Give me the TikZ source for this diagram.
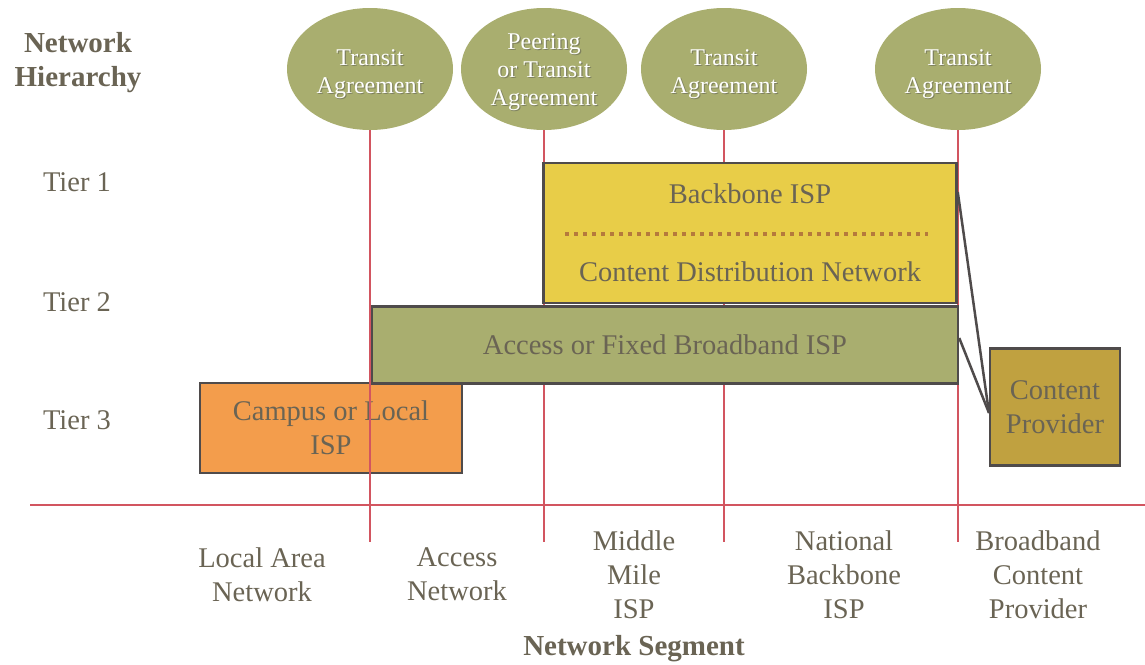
\documentclass[tikz,border=0pt]{standalone}
\usepackage{fontspec}
\setmainfont{Liberation Serif}
\usetikzlibrary{shapes.geometric}
\definecolor{olive}{HTML}{A9AE6F}
\definecolor{gold}{HTML}{E8CD48}
\definecolor{peach}{HTML}{F39D4C}
\definecolor{mustard}{HTML}{C0A140}
\definecolor{edge}{HTML}{4F4B4B}
\definecolor{txt}{HTML}{6A6454}
\definecolor{grid}{HTML}{D25560}
\definecolor{dots}{HTML}{B5793C}
\tikzset{
  agree/.style={ellipse, fill=olive, minimum width=166pt, minimum height=122pt,
    inner sep=0pt},
  agreetext/.style={align=center, text=white, font=\fontsize{24}{28}\selectfont},
  agreeshadow/.style={align=center, text=black!70, opacity=0.45,
    font=\fontsize{24}{28}\selectfont},
  tierbox/.style={draw=edge, line width=2.5pt, align=center, text=txt,
    font=\fontsize{28.5}{34}\selectfont, inner sep=0pt},
  gridline/.style={draw=grid, line width=1.6pt},
  label/.style={text=txt, align=center, font=\fontsize{28.5}{34}\selectfont},
  heading/.style={text=txt, align=center, font=\fontsize{29}{34}\selectfont\bfseries},
  link/.style={draw=edge, line width=2.5pt}
}
\begin{document}
\begin{tikzpicture}[x=1pt, y=-1pt]
\useasboundingbox (0,0) rectangle (1145,664);

% agreements along the top
\node[agree] (e1) at (370,69) {};
\node[agree] (e2) at (544,69) {};
\node[agree] (e3) at (724,69) {};
\node[agree] (e4) at (958,69) {};
\foreach \n/\x/\y/\t in {1/370/74/{Transit\\Agreement},
                         2/544/72/{Peering\\or Transit\\Agreement},
                         3/724/74/{Transit\\Agreement},
                         4/958/74/{Transit\\Agreement}}{
  \node[agreeshadow] (es\n) at (\x+1.2,\y+1.2) {\t};
  \node[agreetext] (et\n) at (\x,\y) {\t};
}

% tier 3 box sits under the segment lines
\node[tierbox, fill=peach, minimum width=262pt, minimum height=90pt] (campus) at (331,428) {Campus or Local\\ISP};

% segment boundaries
\coordinate (b1) at (370,542);
\coordinate (b2) at (544,542);
\coordinate (b3) at (724,542);
\coordinate (b4) at (958,542);
\coordinate (axl) at (30,505);
\coordinate (axr) at (1145,505);
\draw[gridline] (e1.south) -- (b1);
\draw[gridline] (e2.south) -- (b2);
\draw[gridline] (e3.south) -- (b3);
\draw[gridline] (e4.south) -- (b4);
\draw[gridline] (axl) -- (axr);

% tier 1 and tier 2 boxes
\node[tierbox, fill=gold, minimum width=413pt, minimum height=140pt] (backbone) at (750,233) {};
\node[label] (bbisp) at (750,194) {Backbone ISP};
\node[label] (cdn) at (750,272) {Content Distribution Network};
\draw[dots, line width=3.5pt, dash pattern=on 4pt off 5pt] (565,234) -- (928,234);
\node[tierbox, fill=olive, minimum width=586pt, minimum height=77pt] (access) at (665,345) {Access or Fixed Broadband ISP};

% content provider
\node[tierbox, fill=mustard, minimum width=130pt, minimum height=117pt] (cp) at (1055,407) {Content\\Provider};
\coordinate (cpl) at (989,413);
\draw[link] (backbone.east |- 0,192) -- (cpl);
\draw[link] (access.east |- 0,338) -- (cpl);

% axis titles and tiers
\node[heading] (hier) at (78,63) {Network\\Hierarchy};
\node[label] (t1) at (77,182) {Tier 1};
\node[label] (t2) at (77,302) {Tier 2};
\node[label] (t3) at (77,420) {Tier 3};

% segments
\node[label, anchor=north] (s1) at (262,544) {Local Area\\Network};
\node[label, anchor=north] (s2) at (457,544) {Access\\Network};
\node[label, anchor=north] (s3) at (634,527) {Middle\\Mile\\ISP};
\node[label, anchor=north] (s4) at (844,527) {National\\Backbone\\ISP};
\node[label, anchor=north] (s5) at (1038,527) {Broadband\\Content\\Provider};
\node[heading] (seg) at (634,649) {Network Segment};
\end{tikzpicture}
\end{document}
